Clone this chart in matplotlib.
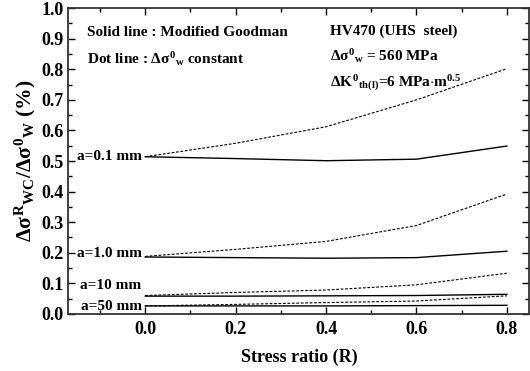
import matplotlib
matplotlib.use("Agg")
import matplotlib.pyplot as plt
from matplotlib.ticker import MultipleLocator

plt.rcParams['font.family'] = ['Liberation Serif', 'DejaVu Serif']
plt.rcParams['font.weight'] = 'bold'
plt.rcParams['mathtext.fontset'] = 'custom'
plt.rcParams['mathtext.rm'] = 'Liberation Serif:bold'
plt.rcParams['mathtext.it'] = 'Liberation Serif:bold'
plt.rcParams['mathtext.bf'] = 'Liberation Serif:bold'

# --- data ---
stress_ratio = [0.0, 0.2, 0.4, 0.6, 0.8]
crack_labels = ["a=0.1 mm", "a=1.0 mm", "a=10 mm", "a=50 mm"]
label_y = [0.514, 0.196, 0.094, 0.024]

# solid : modified Goodman
goodman_01 = [0.514, 0.508, 0.501, 0.506, 0.549]
goodman_1 = [0.186, 0.184, 0.182, 0.184, 0.205]
goodman_10 = [0.058, 0.058, 0.059, 0.060, 0.064]
goodman_50 = [0.026, 0.026, 0.026, 0.027, 0.028]

# dotted : delta sigma_w constant
const_01 = [0.514, 0.558, 0.612, 0.700, 0.802]
const_1 = [0.188, 0.211, 0.237, 0.289, 0.392]
const_10 = [0.060, 0.070, 0.078, 0.095, 0.133]
const_50 = [0.026, 0.031, 0.037, 0.042, 0.059]

solid_series = [goodman_01, goodman_1, goodman_10, goodman_50]
dot_series = [const_01, const_1, const_10, const_50]

fig = plt.figure(figsize=(5.3, 3.71), dpi=100)
ax = fig.add_axes([0.129, 0.154, 0.870, 0.824])

for s in solid_series:
    ax.plot(stress_ratio, s, color='black', lw=1.0)
for s in dot_series:
    ax.plot(stress_ratio, s, color='black', lw=0.8, dashes=(2.5, 1.5))

# crack size labels left of the curves
for lab, yy in zip(crack_labels, label_y):
    ax.text(-0.008, yy, lab, ha='right', va='center', fontsize=11, fontweight='bold')

ax.set_xlim(-0.17, 0.85)
ax.set_ylim(0.0, 1.0)
ax.xaxis.set_major_locator(MultipleLocator(0.2))
ax.xaxis.set_minor_locator(MultipleLocator(0.1))
ax.yaxis.set_major_locator(MultipleLocator(0.1))
ax.yaxis.set_minor_locator(MultipleLocator(0.05))
ax.set_xticks([0.0, 0.2, 0.4, 0.6, 0.8])
ax.xaxis.set_major_formatter(plt.FormatStrFormatter('%.1f'))
ax.yaxis.set_major_formatter(plt.FormatStrFormatter('%.1f'))
ax.tick_params(which='both', direction='in', top=True, right=True, labelsize=13, width=1.0)
ax.tick_params(which='major', length=5)
ax.tick_params(which='minor', length=3)
ax.tick_params(axis='x', pad=5)
for sp in ax.spines.values():
    sp.set_linewidth(1.3)
    sp.set_color('#333333')

ax.set_xlabel("Stress ratio (R)", fontsize=13, fontweight='bold', labelpad=8)
ax.set_ylabel(r"$\Delta\sigma^{R}{}_{WC}/\Delta\sigma^{0}{}_{W}$ (%)", fontsize=15.5,
              fontweight='bold', labelpad=2)

# annotations
ax.text(0.04, 0.92, "Solid line : Modified Goodman", transform=ax.transAxes,
        fontsize=11, fontweight='bold', va='center')
ax.text(0.04, 0.835, r"Dot line : $\Delta\sigma^{0}{}_{w}$ constant", transform=ax.transAxes,
        fontsize=11, fontweight='bold', va='center')
ax.text(0.568, 0.925, "HV470 (UHS  steel)", transform=ax.transAxes,
        fontsize=11, fontweight='bold', va='center')
ax.text(0.568, 0.845, r"$\Delta\sigma^{0}{}_{w}$ = 560 MPa", transform=ax.transAxes,
        fontsize=11, fontweight='bold', va='center')
ax.text(0.568, 0.755, r"$\Delta K^{0}{}_{th(l)}$=6 MPa$\cdot$m$^{0.5}$", transform=ax.transAxes,
        fontsize=11, fontweight='bold', va='center')

fig.savefig("out.png", dpi=100)
